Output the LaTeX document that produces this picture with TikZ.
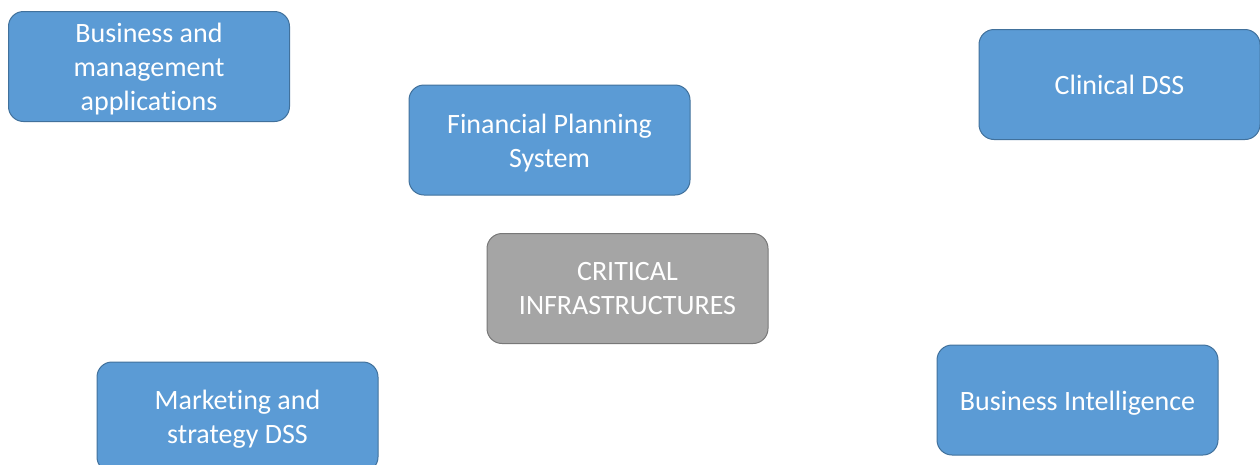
\documentclass[tikz,border=0pt]{standalone}
\usepackage{fontspec}
\setmainfont[Ligatures=NoCommon]{Carlito}
\definecolor{boxblue}{HTML}{5B9BD5}
\definecolor{boxblueline}{HTML}{41719C}
\definecolor{boxgray}{HTML}{A5A5A5}
\definecolor{boxgrayline}{HTML}{787878}
\begin{document}
\begin{tikzpicture}[x=1pt,y=-1pt,
  bluebox/.style={draw=boxblueline, fill=boxblue, line width=1pt, rounded corners=15pt,
    minimum width=281pt, minimum height=110pt, inner sep=0pt},
  graybox/.style={bluebox, draw=boxgrayline, fill=boxgray},
  boxtext/.style={text=white, align=center, inner sep=0pt,
    font=\fontsize{28pt}{34pt}\selectfont}]
\useasboundingbox (0,0) rectangle (1260,464);
\clip (0,0) rectangle (1260,464);
\node[bluebox] (bma) at (149,66.5) {};
\node[boxtext] (bmat) at ([yshift=-3pt]bma.center) {Business and\\management\\applications};
\node[bluebox] (fps) at (549.5,140) {};
\node[boxtext] (fpst) at ([yshift=-3.5pt]fps.center) {Financial Planning\\System};
\node[bluebox] (cds) at (1119.5,84.5) {};
\node[boxtext] (cdst) at (cds.center) {Clinical DSS};
\node[graybox] (ci) at (627.5,288.5) {};
\node[boxtext] (cit) at ([yshift=-0.5pt]ci.center) {CRITICAL\\INFRASTRUCTURES};
\node[bluebox] (msd) at (237.5,417) {};
\node[boxtext] (msdt) at ([yshift=-2.5pt]msd.center) {Marketing and\\strategy DSS};
\node[bluebox] (bi) at (1077.5,400) {};
\node[boxtext] (bit) at ([yshift=-3pt]bi.center) {Business Intelligence};
\end{tikzpicture}
\end{document}
